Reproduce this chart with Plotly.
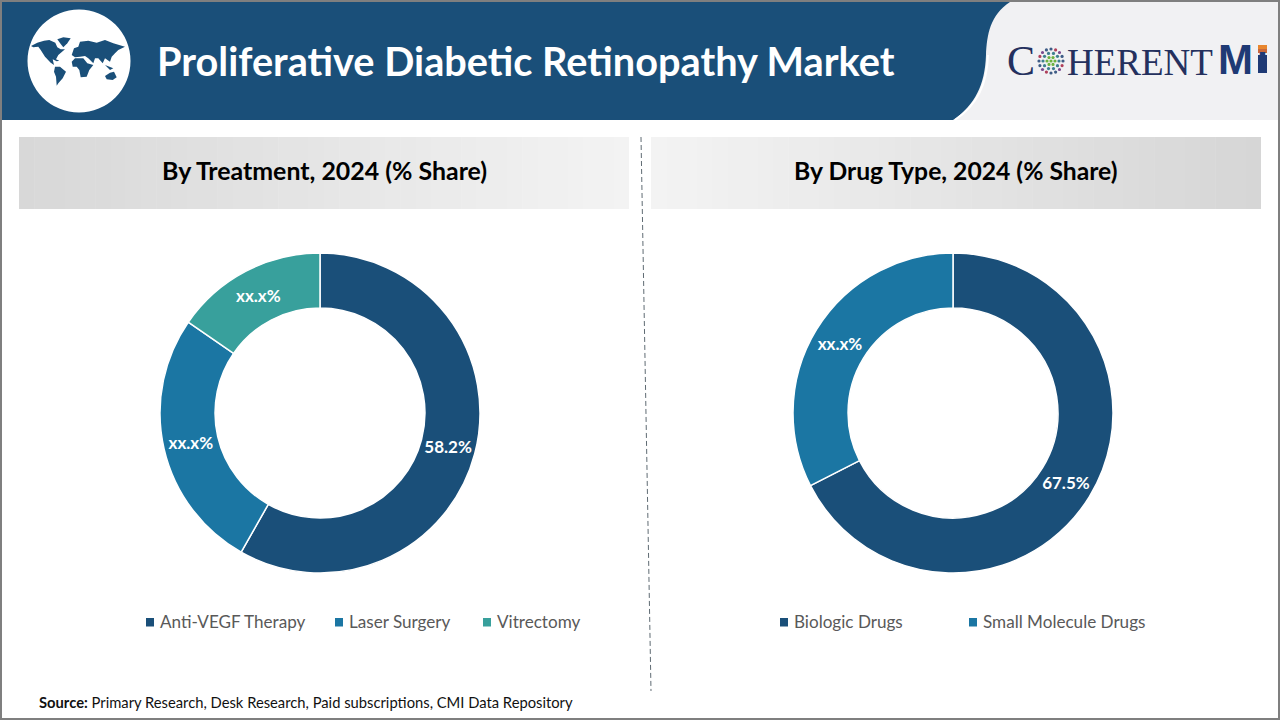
import math
import plotly.graph_objects as go

# ---- data ----
treatment_labels = ["Anti-VEGF Therapy", "Laser Surgery", "Vitrectomy"]
treatment_values = [58.2, 26.4, 15.4]
treatment_text = ["58.2%", "xx.x%", "xx.x%"]
treatment_colors = ["#1A4F79", "#1B76A3", "#38A09C"]

drug_labels = ["Biologic Drugs", "Small Molecule Drugs"]
drug_values = [67.5, 32.5]
drug_text = ["67.5%", "xx.x%"]
drug_colors = ["#1A4F79", "#1B76A3"]

title = "Proliferative Diabetic Retinopathy Market"
panel_titles = ["By Treatment, 2024 (% Share)", "By Drug Type, 2024 (% Share)"]
source_bold = "Source:"
source_rest = " Primary Research, Desk Research, Paid subscriptions, CMI Data Repository"

W, H = 1280, 720
FONT = "Lato"
NAVY = "#1A4F79"


def px(x):
    return x / W


def py(y):
    return 1 - y / H


def P(s):
    """Convert an SVG-like path given in pixels: tokens alternate x, y."""
    out, is_x = [], True
    for tok in s.split():
        if tok.isalpha():
            out.append(tok)
        else:
            v = float(tok)
            out.append(f"{px(v) if is_x else py(v):.5f}")
            is_x = not is_x
    return " ".join(out)


shapes = []


def rect(x0, y0, x1, y1, color):
    shapes.append(dict(type="rect", xref="paper", yref="paper", x0=px(x0), x1=px(x1),
                       y0=py(y0), y1=py(y1), fillcolor=color, line_width=0, layer="below"))


def path(s, fill=None, line=None, lw=0, dash=None):
    d = dict(type="path", xref="paper", yref="paper", path=P(s), layer="below")
    if fill:
        d["fillcolor"] = fill
    d["line"] = dict(color=line or "rgba(0,0,0,0)", width=lw)
    if dash:
        d["line"]["dash"] = dash
    shapes.append(d)


def circle(cx, cy, r, color):
    shapes.append(dict(type="circle", xref="paper", yref="paper", x0=px(cx - r), x1=px(cx + r),
                       y0=py(cy + r), y1=py(cy - r), fillcolor=color, line_width=0, layer="below"))


def mix(a, b, t):
    v = round(a + (b - a) * t)
    return f"rgb({v},{v},{v})"


# header
rect(0, 0, W, H, "#FFFFFF")
rect(950, 2, 1278, 120, "#F1F1F3")
path("M 2 2 L 1010 2 C 990 15 987 35 986 55 C 985 85 975 105 953 120 L 2 120 Z", fill=NAVY)
path("M 988 55 C 987 85 977 105 955 120", line="#FFFFFF", lw=2)

# globe logo (outlines traced loosely, in crop coordinates)
circle(79, 61, 51.5, "#FFFFFF")
continents = [
    [(3, 78), (22, 68), (42, 62), (58, 60), (76, 68), (82, 82), (92, 88), (105, 88), (85, 105), (78, 118),
     (88, 122), (80, 124), (68, 118), (72, 135), (62, 128), (45, 110), (32, 90), (25, 80), (10, 82)],
    [(75, 140), (90, 140), (108, 155), (98, 175), (85, 190), (80, 197), (78, 170), (72, 155)],
    [(82, 58), (100, 52), (122, 55), (112, 70), (100, 82), (92, 72)],
    [(125, 105), (132, 85), (145, 80), (150, 65), (175, 62), (200, 68), (225, 60), (250, 70), (285, 80),
     (265, 90), (255, 100), (245, 110), (240, 125), (225, 115), (218, 130), (205, 115), (195, 115),
     (190, 130), (175, 115), (165, 108), (150, 110), (135, 112)],
    [(125, 125), (135, 115), (160, 115), (172, 130), (190, 135), (178, 150), (170, 170), (152, 172),
     (148, 150), (140, 140), (128, 140)],
    [(225, 135), (250, 145), (240, 150)],
    [(225, 168), (240, 158), (252, 155), (260, 172), (248, 180), (230, 178)],
]
for poly in continents:
    pts = [f"{30 + zx / 3:.1f} {20 + zy / 3:.1f}" for zx, zy in poly]
    path("M " + " L ".join(pts) + " Z", fill=NAVY)

# panels with a horizontal gradient
N = 40
for i in range(N):
    t = i / (N - 1)
    rect(19 + 610 * i / N, 137, min(629, 19 + 610 * (i + 1) / N + 0.5), 209, mix(216, 243, t))
    rect(651 + 610 * i / N, 137, min(1261, 651 + 610 * (i + 1) / N + 0.5), 209, mix(243, 214, t))

# dashed divider
path("M 641 137 L 651 691", line="#5F6B73", lw=1, dash="5px,3px")

# frame
rect(0, 0, W, 2, "#7F7F7F")
rect(0, 718, W, H, "#7F7F7F")
rect(0, 0, 2, H, "#7F7F7F")
rect(1278, 0, W, H, "#7F7F7F")

# coherent logo: globe of dots and the bar of the "i"
for ring, n, col in [(0, 1, "#6DB33F"), (4, 6, "#6DB33F"), (8, 10, "#3F7F8F"), (12, 16, "#3E5C86")]:
    for k in range(n):
        a = 2 * math.pi * k / n
        colr = col
        if ring == 12 and k % 4 in (1, 2):
            colr = "#B0405A" if k % 2 else "#7A4A8F"
        circle(1051 + ring * math.cos(a), 61 + ring * math.sin(a), 1.6, colr)
rect(1258, 45, 1267, 49, "#E8862E")
rect(1258, 49, 1267, 53, "#C9683A")
rect(1258, 55, 1267, 73, "#1F3A75")

fig = go.Figure()


def donut(labels, values, text, colors, x0):
    fig.add_trace(go.Pie(
        labels=labels, values=values, text=text, textinfo="text", hoverinfo="label+percent",
        marker=dict(colors=colors, line=dict(color="#FFFFFF", width=1.5)),
        hole=0.656, sort=False, direction="clockwise", rotation=0,
        domain=dict(x=[px(x0), px(x0 + 320)], y=[py(573), py(253)]),
        textposition="inside", insidetextorientation="horizontal",
        insidetextfont=dict(family=FONT, size=17, color="#FFFFFF", weight="bold"),
        showlegend=False,
    ))


donut(treatment_labels, treatment_values, treatment_text, treatment_colors, 160)
donut(drug_labels, drug_values, drug_text, drug_colors, 793)


def ann(x, y, text, size, color, anchor="center", family=FONT, bold=False):
    t = f"<b>{text}</b>" if bold else text
    return dict(x=px(x), y=py(y), xref="paper", yref="paper", text=t, showarrow=False,
                xanchor=anchor, yanchor="middle", borderpad=0, borderwidth=0,
                font=dict(family=family, size=size, color=color))


serif = "Liberation Serif"
annotations = [
    ann(156.5, 60, title, 39.7, "#FFFFFF", "left", bold=True),
    ann(324, 170, panel_titles[0], 24.9, "#000000", bold=True),
    ann(955.5, 170, panel_titles[1], 24.7, "#000000", bold=True),
    ann(39, 701.5, f"<b>{source_bold}</b>{source_rest}", 14.75, "#111111", "left"),
    ann(1007, 61, "C", 42, "#24305E", "left", serif),
    ann(1067, 62, "HERENT", 37, "#24305E", "left", serif),
    ann(1218, 59, "M", 42, "#1F3A75", "left", "Liberation Sans", True),
    ann(1257, 59, "ı", 39, "#1F3A75", "left", "Liberation Sans", True),
]

# hand-placed legends, tied to the same labels and colours as the donuts
legend_rows = [
    (treatment_labels, treatment_colors, [146, 335, 483]),
    (drug_labels, drug_colors, [780, 969]),
]
for labels, colors, xs in legend_rows:
    for lab, col, x in zip(labels, colors, xs):
        rect(x, 618, x + 8, 626.5, col)
        annotations.append(ann(x + 14, 621, lab, 17.1, "#595959", "left"))

fig.update_layout(
    width=W, height=H, margin=dict(l=0, r=0, t=0, b=0),
    paper_bgcolor="#FFFFFF", plot_bgcolor="#FFFFFF",
    shapes=shapes, annotations=annotations, showlegend=False,
)

fig.write_html("out.html", config=dict(displayModeBar=False),
               post_script="document.body.style.margin='0';document.documentElement.style.overflow='hidden';")
